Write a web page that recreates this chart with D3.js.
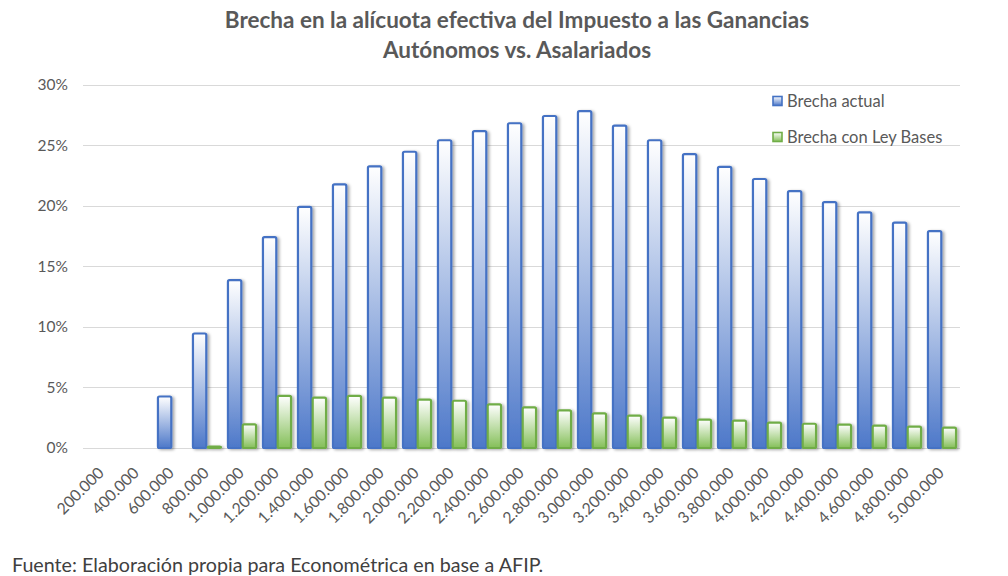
<!DOCTYPE html>
<html><head><meta charset="utf-8">
<script src="https://cdn.jsdelivr.net/npm/d3@7"></script>
<style>body{margin:0;background:#fff}svg{display:block}</style>
</head><body>
<svg id="c" width="1008" height="576"></svg>
<script>
const categories = ["200.000","400.000","600.000","800.000","1.000.000","1.200.000","1.400.000","1.600.000","1.800.000","2.000.000","2.200.000","2.400.000","2.600.000","2.800.000","3.000.000","3.200.000","3.400.000","3.600.000","3.800.000","4.000.000","4.200.000","4.400.000","4.600.000","4.800.000","5.000.000"];
const brechaActual = [0,0,4.25,9.45,13.85,17.4,19.9,21.75,23.25,24.45,25.4,26.15,26.8,27.4,27.8,26.6,25.4,24.25,23.2,22.2,21.2,20.3,19.45,18.6,17.9];
const brechaLey = [0,0,0,0.12,1.95,4.3,4.15,4.3,4.15,4.0,3.9,3.6,3.35,3.1,2.85,2.68,2.5,2.35,2.26,2.1,2.0,1.93,1.84,1.76,1.68];
const yTicks = [0,5,10,15,20,25,30];
const seriesNames = ["Brecha actual","Brecha con Ley Bases"];
const titleLines = ["Brecha en la alícuota efectiva del Impuesto a las Ganancias","Autónomos vs. Asalariados"];
const sourceText = "Fuente: Elaboración propia para Econométrica en base a AFIP.";

const svg = d3.select("#c");
const font = "Lato, 'Open Sans', sans-serif";
const defs = svg.append("defs");
const colors = [
  {stroke:"#4472C4", top:"#ffffff", bottom:"#4d78c9"},
  {stroke:"#70AD47", top:"#ffffff", bottom:"#84bf58"}
];
colors.forEach((c,i)=>{
  const g = defs.append("linearGradient").attr("id","g"+i).attr("x1",0).attr("y1",0).attr("x2",0).attr("y2",1);
  g.append("stop").attr("offset","0%").attr("stop-color",c.top);
  g.append("stop").attr("offset","100%").attr("stop-color",c.bottom);
});
const f = defs.append("filter").attr("id","sh").attr("x","-30%").attr("y","-10%").attr("width","160%").attr("height","120%");
f.append("feDropShadow").attr("dx",2).attr("dy",1).attr("stdDeviation",1.5).attr("flood-color","#000").attr("flood-opacity",0.35);

const x = d3.scaleBand().domain(categories).range([84.5,959.5]).paddingInner(0.14).paddingOuter(0.07);
const xs = d3.scaleBand().domain([0,1]).range([0,x.bandwidth()]).paddingInner(-0.04);
const y = d3.scaleLinear().domain([0,30]).range([448,84.5]);

// gridlines
svg.append("g").selectAll("line").data(yTicks).join("line")
  .attr("x1",83).attr("x2",960).attr("y1",d=>Math.round(y(d))+0.5).attr("y2",d=>Math.round(y(d))+0.5)
  .attr("stroke","#d9d9d9").attr("stroke-width",1);

// y labels
svg.append("g").selectAll("text").data(yTicks).join("text")
  .attr("x",68).attr("y",d=>y(d)).attr("dy","0.35em").attr("text-anchor","end")
  .attr("font-family",font).attr("font-size",15.5).attr("fill","#595959").text(d=>d+"%");

// bars
const series = [brechaActual, brechaLey];
series.forEach((vals,si)=>{
  svg.append("g").attr("filter","url(#sh)").selectAll("rect").data(vals.map((v,i)=>({v,c:categories[i]})).filter(d=>d.v>0)).join("rect")
    .attr("x",d=>x(d.c)+xs(si)+1)
    .attr("width",xs.bandwidth()-2)
    .attr("y",d=>y(d.v))
    .attr("height",d=>Math.max(0,y(0)-y(d.v)))
    .attr("rx",1.5)
    .attr("fill","url(#g"+si+")")
    .attr("stroke",colors[si].stroke).attr("stroke-width",2.2);
});

// x labels
svg.append("g").selectAll("text").data(categories).join("text")
  .attr("transform",d=>`translate(${x(d)+x.bandwidth()/2-1},${470}) rotate(-45)`)
  .attr("text-anchor","end").attr("dy","0.35em")
  .attr("font-family",font).attr("font-size",15.8).attr("fill","#595959").text(d=>d);

// title
svg.append("g").selectAll("text").data(titleLines).join("text")
  .attr("x",517).attr("y",(d,i)=>28+i*30).attr("text-anchor","middle")
  .attr("font-family",font).attr("font-weight","bold").attr("font-size",22.5).attr("fill","#595959").text(d=>d);

// legend
const lg = svg.append("g").selectAll("g").data(seriesNames).join("g")
  .attr("transform",(d,i)=>`translate(773,${101+i*36})`);
lg.append("rect").attr("x",0).attr("y",-4.5).attr("width",9).attr("height",9)
  .attr("fill",(d,i)=>"url(#g"+i+")").attr("stroke",(d,i)=>colors[i].stroke).attr("stroke-width",1.6);
lg.append("text").attr("x",14).attr("dy","0.35em").attr("font-family",font).attr("font-size",16.5)
  .attr("fill","#595959").text(d=>d);

// source
svg.append("text").attr("x",12).attr("y",572).attr("font-family",font).attr("font-size",19.7)
  .attr("fill","#404040").text(sourceText);
</script>
</body></html>
